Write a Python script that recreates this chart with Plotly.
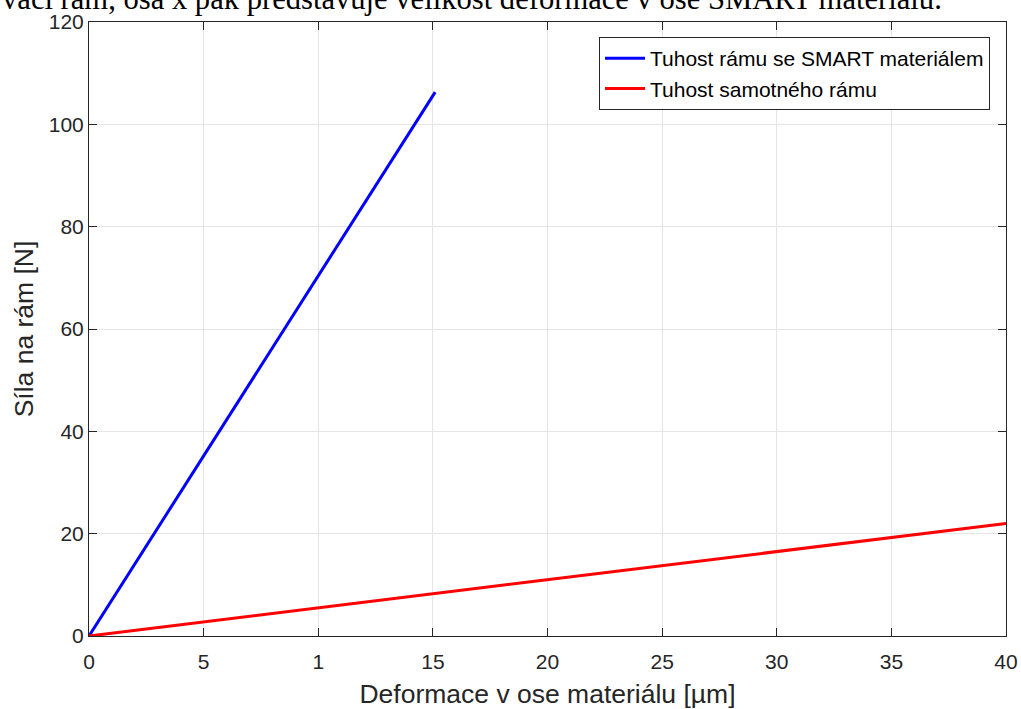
import plotly.graph_objects as go

# Data
x_smart = [0, 15.1]
y_smart = [0, 106.3]
x_frame = [0, 40]
y_frame = [0, 22.0]
series_names = ["Tuhost rámu se SMART materiálem", "Tuhost samotného rámu"]
x_tickvals = [0, 5, 10, 15, 20, 25, 30, 35, 40]
x_ticktext = ["0", "5", "1", "15", "20", "25", "30", "35", "40"]
y_tickvals = [0, 20, 40, 60, 80, 100, 120]
header_text = "vací rám, osa x pak představuje velikost deformace v ose SMART materiálu."

W, H = 1021, 709
L, R, T, B = 89, 15, 22, 73
pw, ph = W - L - R, H - T - B

FONT = "Liberation Sans, Arial, Helvetica, sans-serif"

fig = go.Figure()
fig.add_trace(go.Scatter(x=x_smart, y=y_smart, mode="lines", name=series_names[0],
                         line=dict(color="#0000ff", width=3)))
fig.add_trace(go.Scatter(x=x_frame, y=y_frame, mode="lines", name=series_names[1],
                         line=dict(color="#ff0000", width=3)))

axis_common = dict(
    showgrid=True, gridcolor="#e5e5e5", gridwidth=1,
    showline=True, linecolor="#262626", linewidth=1, mirror="ticks",
    ticks="inside", ticklen=8, tickcolor="#262626", tickwidth=1,
    zeroline=False, automargin=False,
    tickfont=dict(family=FONT, size=21, color="#262626"),
    title_font=dict(family=FONT, size=26.5, color="#262626"),
)

fig.update_layout(
    width=W, height=H,
    margin=dict(l=L, r=R, t=T, b=B, pad=0, autoexpand=False),
    paper_bgcolor="white", plot_bgcolor="white",
    xaxis=dict(range=[0, 40], tickvals=x_tickvals, ticktext=x_ticktext,
               ticklabelstandoff=7,
               title=dict(text="Deformace v ose materiálu [µm]", standoff=12), **axis_common),
    yaxis=dict(range=[0, 120], tickvals=y_tickvals,
               title=dict(text="Síla na rám [N]", standoff=7), **axis_common),
    legend=dict(x=(990 - L) / pw, xanchor="right", y=(636 - 37) / ph, yanchor="top",
                bgcolor="white", bordercolor="#262626", borderwidth=1,
                font=dict(family=FONT, size=21, color="#000000"),
                tracegroupgap=0, itemwidth=40),
    showlegend=True,
)

fig.add_annotation(text=header_text, xref="paper", yref="paper",
                   x=-L / pw, xanchor="left", y=(636 - 18) / ph, yanchor="bottom",
                   showarrow=False,
                   font=dict(family="Liberation Serif, Times New Roman, serif", size=30.6, color="black"))

fig.write_html("out.html", config={"displayModeBar": False},
               post_script="document.body.style.margin='0';")
